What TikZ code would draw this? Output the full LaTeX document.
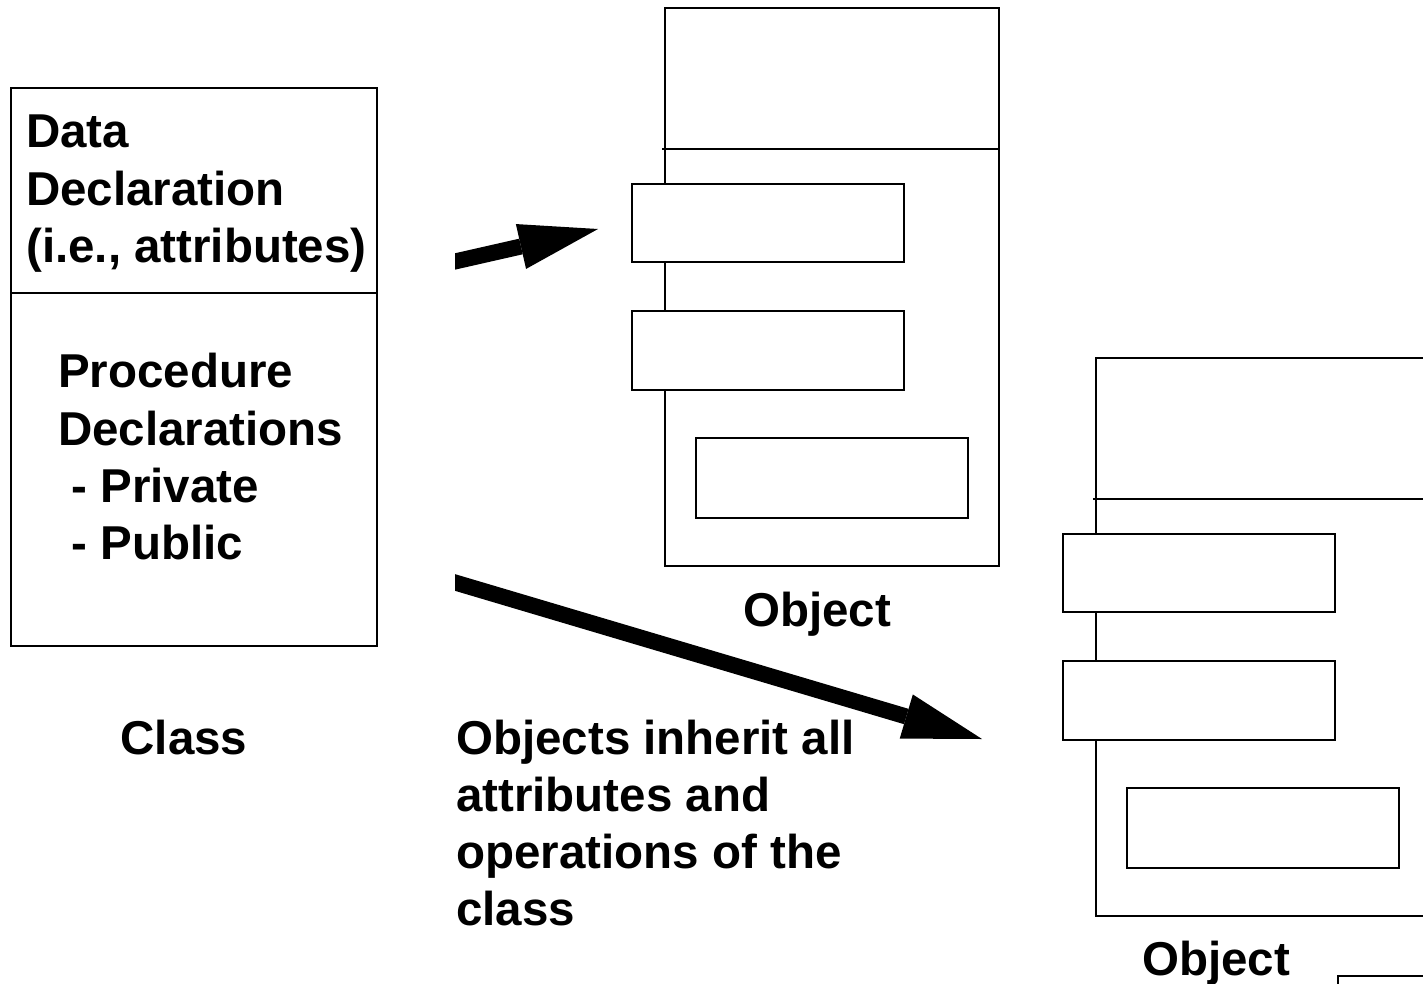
\documentclass[tikz,border=0pt]{standalone}
\usepackage{fontspec}
\setmainfont{Liberation Sans}
\usetikzlibrary{arrows.meta}
\tikzset{
  box/.style={draw=black, line width=2pt, fill=white, inner sep=0pt, anchor=north west},
  divline/.style={draw=black, line width=2pt},
  lbl/.style={inner sep=0pt, anchor=base west, font=\fontsize{47.5}{57}\selectfont\bfseries},
  clbl/.style={inner sep=0pt, anchor=base, font=\fontsize{47.5}{57}\selectfont\bfseries},
  bigarrow/.style={draw=black, line width=16pt, -{Triangle[length=79pt,width=46pt,line width=0pt]}},
  objframe/.pic={
    \node[box, minimum width=334pt, minimum height=558pt] (-outer) at (0,0) {};
    \draw[divline] (-2,142) -- (336,142);
    \node[box, minimum width=272pt, minimum height=78pt] (-b1) at (-33,176) {};
    \node[box, minimum width=272pt, minimum height=79pt] (-b2) at (-33,303) {};
    \node[box, minimum width=272pt, minimum height=80pt] (-b3) at (31,430) {};
  }
}
\begin{document}
\begin{tikzpicture}[x=1pt, y=-1pt]
\useasboundingbox (0,0) rectangle (1423,983);
\clip (0,0) rectangle (1423,983);
\fill[white] (0,0) rectangle (1423,983);

% Class box
\node[box, minimum width=366pt, minimum height=558pt] (cls) at (10,87) {};
\draw[divline] (cls.west |- 0,293) -- (cls.east |- 0,293);
\node[lbl] (d1) at (26,147) {Data};
\node[lbl] (d2) at (26,205) {Declaration};
\node[lbl] (d3) at (26,262) {(i.e., attributes)};
\node[lbl] (p1) at (58,387) {Procedure};
\node[lbl] (p2) at (58,445) {Declarations};
\node[lbl] (p3) at (58,502) {\ - Private};
\node[lbl] (p4) at (58,559) {\ - Public};
\node[clbl] (clsname) at (184,754) {Class};

% Objects
\pic (o1) at (664,7) {objframe};
\pic (o2) at (1095,357) {objframe};
\node[clbl] (o1name) at (817,626) {Object};
\node[clbl] (o2name) at (1216,975) {Object};
\node[box, minimum width=200pt, minimum height=100pt] (o3) at (1337,975) {};

% Inherit text
\node[lbl] (t1) at (456,754) {Objects inherit all};
\node[lbl] (t2) at (456,811) {attributes and};
\node[lbl] (t3) at (456,868) {operations of the};
\node[lbl] (t4) at (456,925) {class};

% Arrows
\coordinate (a1s) at (446,263.5);
\coordinate (a1e) at (598,229);
\coordinate (a2s) at (446,579.8);
\coordinate (a2e) at (982,739);
\begin{scope}
\clip (455,0) rectangle (1423,983);
\draw[bigarrow] (a1s) -- (a1e);
\draw[bigarrow] (a2s) -- (a2e);
\end{scope}
\end{tikzpicture}
\end{document}
